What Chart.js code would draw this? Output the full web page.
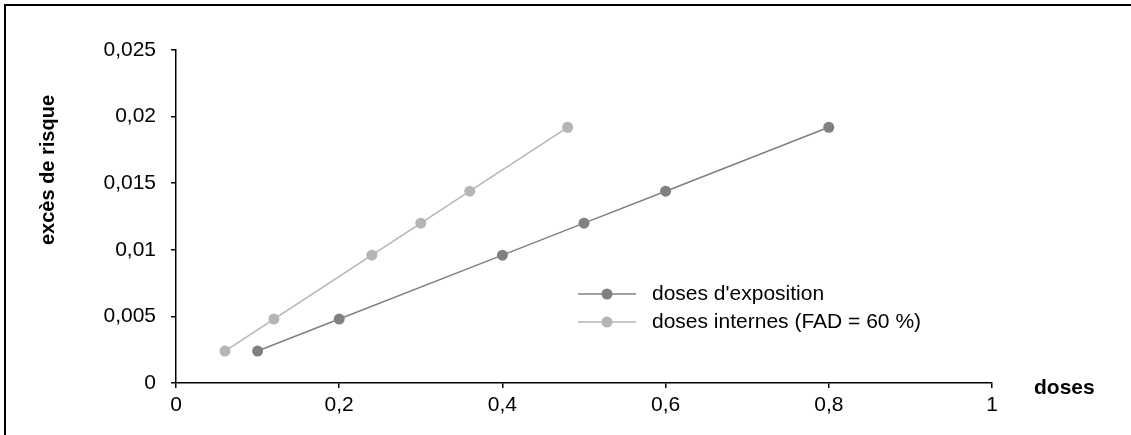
<!DOCTYPE html>
<html>
<head>
<meta charset="utf-8">
<script src="https://cdn.jsdelivr.net/npm/chart.js@4.4.0/dist/chart.umd.min.js"></script>
<style>
  html, body { margin: 0; padding: 0; background: #fff; }
  #wrap { width: 1131px; height: 435px; position: relative; }
</style>
</head>
<body>
<div id="wrap"><canvas id="myChart"></canvas></div>
<script>
// valeurs
const dosesExposition = [0.1, 0.2, 0.4, 0.5, 0.6, 0.8];
const dosesInternes = [0.06, 0.12, 0.24, 0.3, 0.36, 0.48];
const excesRisque = [0.0024, 0.0048, 0.0096, 0.012, 0.0144, 0.0192];
const seriesLabels = ['doses d\'exposition', 'doses internes (FAD = 60 %)'];
const seriesColors = ['#808080', '#b5b5b5'];
const xTicks = [0, 0.2, 0.4, 0.6, 0.8, 1];
const yTicks = [0, 0.005, 0.01, 0.015, 0.02, 0.025];

const fontFamily = 'Liberation Sans, Arial, Helvetica, sans-serif';

function virgule(v) {
    return String(Math.round(v * 1000) / 1000).replace('.', ',');
}

// cadre, titres des axes et légende dans la zone du graphique
const decor = {
    id: 'decor',
    afterDraw(chart) {
        const c = chart.ctx;
        c.save();
        c.strokeStyle = '#000';
        c.lineWidth = 2;
        c.beginPath();
        c.moveTo(5, 435);
        c.lineTo(5, 5);
        c.lineTo(1131, 5);
        c.stroke();

        c.fillStyle = '#000';
        c.font = 'bold 20px ' + fontFamily;
        c.textAlign = 'center';
        c.textBaseline = 'middle';
        c.save();
        c.translate(48, 170);
        c.rotate(-Math.PI / 2);
        c.fillText('excès de risque', 0, 0);
        c.restore();
        c.textAlign = 'left';
        c.font = 'bold 21px ' + fontFamily;
        c.fillText('doses', 1034, 388);

        c.font = '21px ' + fontFamily;
        seriesLabels.forEach((lab, i) => {
            const y = 294 + i * 28;
            c.strokeStyle = seriesColors[i];
            c.lineWidth = 1.5;
            c.beginPath();
            c.moveTo(578, y);
            c.lineTo(636, y);
            c.stroke();
            c.fillStyle = seriesColors[i];
            c.beginPath();
            c.arc(607, y, 5.5, 0, Math.PI * 2);
            c.fill();
            c.fillStyle = '#000';
            c.fillText(lab, 652, y);
        });
        c.restore();
    }
};

const ctx = document.getElementById('myChart').getContext('2d');
const myChart = new Chart(ctx, {
    type: 'line',
    data: {
        datasets: [{
            label: seriesLabels[0],
            data: dosesExposition.map((x, i) => ({ x: x, y: excesRisque[i] })),
            borderColor: seriesColors[0],
            backgroundColor: seriesColors[0],
            borderWidth: 1.5,
            pointRadius: 5.5,
            pointBorderWidth: 0
        }, {
            label: seriesLabels[1],
            data: dosesInternes.map((x, i) => ({ x: x, y: excesRisque[i] })),
            borderColor: seriesColors[1],
            backgroundColor: seriesColors[1],
            borderWidth: 1.5,
            pointRadius: 5.5,
            pointBorderWidth: 0
        }]
    },
    options: {
        responsive: true,
        maintainAspectRatio: false,
        animation: false,
        layout: { padding: { left: 0, top: 50, right: 139, bottom: 0 } },
        plugins: {
            legend: { display: false },
            tooltip: { enabled: false }
        },
        scales: {
            x: {
                type: 'linear',
                min: 0,
                max: 1,
                afterBuildTicks: s => { s.ticks = xTicks.map(v => ({ value: v })); },
                afterFit: s => { s.height = 52; },
                ticks: {
                    callback: virgule,
                    color: '#000',
                    padding: 5,
                    maxRotation: 0,
                    font: { family: fontFamily, size: 21 }
                },
                grid: { drawOnChartArea: false, drawTicks: true, tickLength: 5, color: '#000', lineWidth: 1.5 },
                border: { display: true, color: '#000', width: 1.5 }
            },
            y: {
                type: 'linear',
                min: 0,
                max: 0.025,
                afterBuildTicks: s => { s.ticks = yTicks.map(v => ({ value: v })); },
                afterFit: s => { s.width = 176; },
                ticks: {
                    callback: virgule,
                    color: '#000',
                    padding: 15,
                    font: { family: fontFamily, size: 21 }
                },
                grid: { drawOnChartArea: false, drawTicks: true, tickLength: 5, color: '#000', lineWidth: 1.5 },
                border: { display: true, color: '#000', width: 1.5 }
            }
        }
    },
    plugins: [decor]
});
</script>
</body>
</html>
